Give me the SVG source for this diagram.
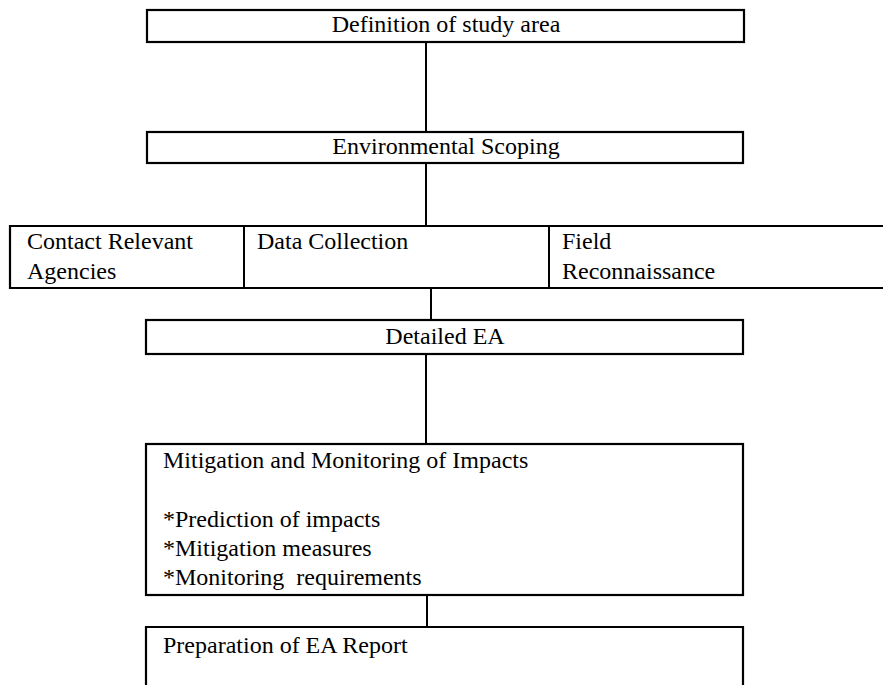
<svg xmlns="http://www.w3.org/2000/svg" width="883" height="685" viewBox="0 0 883 685">
<style>
.box{fill:#fff;stroke:#000;stroke-width:2.2}
.ln{stroke:#000;stroke-width:2;fill:none}
text{font-family:"Liberation Serif","Times New Roman",serif;font-size:24px;fill:#000;white-space:pre}
.c{text-anchor:middle}
</style>
<rect width="883" height="685" fill="#fff"/>
<g id="connectors">
<line class="ln" x1="426" y1="42" x2="426" y2="132"/>
<line class="ln" x1="426" y1="163" x2="426" y2="226"/>
<line class="ln" x1="431" y1="288" x2="431" y2="320"/>
<line class="ln" x1="426" y1="354" x2="426" y2="444"/>
<line class="ln" x1="427" y1="595" x2="427" y2="627"/>
</g>
<g id="n1">
<rect class="box" x="147" y="10" width="597" height="32"/>
<text class="c" x="446" y="32">Definition of study area</text>
</g>
<g id="n2">
<rect class="box" x="147" y="132" width="596" height="31"/>
<text class="c" x="446" y="154">Environmental Scoping</text>
</g>
<g id="n3">
<path class="box" d="M884,226 H10 V288 H884"/>
<line class="ln" x1="244" y1="226" x2="244" y2="288"/>
<line class="ln" x1="549" y1="226" x2="549" y2="288"/>
</g>
<g id="n3a">
<text x="27" y="249">Contact Relevant</text>
<text x="27" y="279">Agencies</text>
</g>
<g id="n3b">
<text x="257" y="249">Data Collection</text>
</g>
<g id="n3c">
<text x="562" y="249">Field</text>
<text x="562" y="279">Reconnaissance</text>
</g>
<g id="n4">
<rect class="box" x="146" y="320" width="597" height="34"/>
<text class="c" x="445" y="344">Detailed EA</text>
</g>
<g id="n5">
<rect class="box" x="146" y="444" width="597" height="151"/>
<text x="163" y="468">Mitigation and Monitoring of Impacts</text>
<text x="163" y="527">*Prediction of impacts</text>
<text x="163" y="556">*Mitigation measures</text>
<text x="163" y="585">*Monitoring  requirements</text>
</g>
<g id="n6">
<path class="box" d="M146,690 V627 H743 V690"/>
<text x="163" y="653">Preparation of EA Report</text>
</g>
</svg>
